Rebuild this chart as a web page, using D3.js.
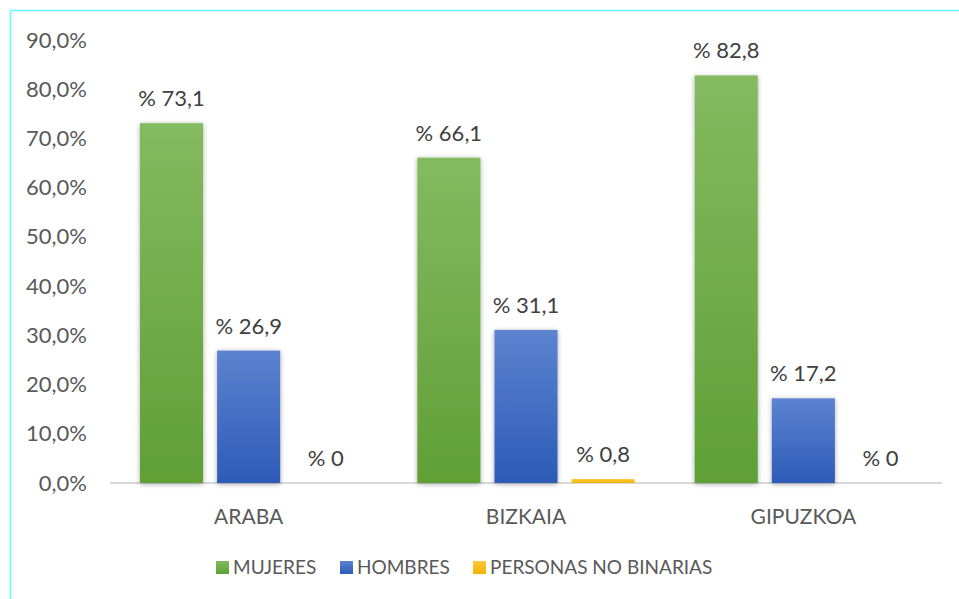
<!DOCTYPE html>
<html>
<head>
<meta charset="utf-8">
<script src="https://cdn.jsdelivr.net/npm/d3@7"></script>
<style>
  body { margin: 0; background: #fff; }
  svg { display: block; font-family: Lato, "Open Sans", sans-serif; }
</style>
</head>
<body>
<div id="the_chart"></div>
<script>
var categories = ["ARABA", "BIZKAIA", "GIPUZKOA"];
var seriesNames = ["MUJERES", "HOMBRES", "PERSONAS NO BINARIAS"];
var mujeres = [73.1, 66.1, 82.8];
var hombres = [26.9, 31.1, 17.2];
var noBinarias = [0, 0.8, 0];
var yTicks = [0, 10, 20, 30, 40, 50, 60, 70, 80, 90];

var seriesValues = [mujeres, hombres, noBinarias];
var colorsTop = ["#84ba60", "#5c83d0", "#ffc83a"];
var colorsBottom = ["#5f9f35", "#2d5bb7", "#f0b400"];

var w = 959, h = 599;
var svg = d3.select("#the_chart").append("svg")
    .attr("width", w)
    .attr("height", h);

var defs = svg.append("defs");
seriesNames.forEach(function (s, i) {
    var g = defs.append("linearGradient")
        .attr("id", "grad" + i)
        .attr("x1", 0).attr("y1", 0).attr("x2", 0).attr("y2", 1);
    g.append("stop").attr("offset", "0%").attr("stop-color", colorsTop[i]);
    g.append("stop").attr("offset", "100%").attr("stop-color", colorsBottom[i]);
});
var f = defs.append("filter").attr("id", "shadow")
    .attr("x", "-30%").attr("y", "-10%").attr("width", "160%").attr("height", "120%");
f.append("feDropShadow")
    .attr("dx", 0).attr("dy", 1)
    .attr("stdDeviation", 2.5)
    .attr("flood-color", "#000")
    .attr("flood-opacity", 0.35);

// outer border (only top and left visible)
svg.append("rect")
    .attr("x", 10.5).attr("y", 10.5)
    .attr("width", 1000).attr("height", 700)
    .attr("fill", "none")
    .attr("stroke", "#66ffff")
    .attr("stroke-width", 1.5);

var plotLeft = 110, plotRight = 942, plotTop = 40, plotBottom = 483;

var yscale = d3.scaleLinear().domain([0, 90]).range([plotBottom, plotTop]);
var x0 = d3.scaleBand().domain(categories).range([plotLeft, plotRight]);
var x1 = d3.scaleBand().domain(seriesNames)
    .range([30, x0.bandwidth() - 30])
    .paddingInner(14 / 77);

var fmtTick = function (d) { return d3.format(".1f")(d).replace(".", ",") + "%"; };
var fmtLabel = function (d) { return "% " + String(d).replace(".", ","); };

// y axis labels
var yaxis = d3.axisLeft(yscale).tickValues(yTicks).tickFormat(fmtTick).tickSize(0).tickPadding(0);
var gY = svg.append("g")
    .attr("transform", "translate(87,0)")
    .call(yaxis);
gY.select(".domain").remove();
gY.selectAll("text")
    .attr("fill", "#595959")
    .style("font-size", "22px")
    .style("font-family", "Lato, 'Open Sans', sans-serif");

// baseline
svg.append("line")
    .attr("x1", plotLeft).attr("x2", plotRight)
    .attr("y1", plotBottom).attr("y2", plotBottom)
    .attr("stroke", "#d9d9d9")
    .attr("stroke-width", 2);

// bars
var rows = [];
categories.forEach(function (c, ci) {
    seriesNames.forEach(function (s, si) {
        rows.push({ cat: c, series: s, si: si, value: seriesValues[si][ci] });
    });
});

svg.selectAll("rect.bar")
    .data(rows.filter(function (d) { return d.value > 0; }))
    .enter().append("rect")
    .attr("class", "bar")
    .attr("x", function (d) { return x0(d.cat) + x1(d.series); })
    .attr("y", function (d) { return yscale(d.value); })
    .attr("width", x1.bandwidth())
    .attr("height", function (d) { return plotBottom - yscale(d.value); })
    .attr("fill", function (d) { return "url(#grad" + d.si + ")"; })
    .attr("filter", function (d) { return d.value > 2 ? "url(#shadow)" : null; });

svg.selectAll("text.lbl")
    .data(rows)
    .enter().append("text")
    .attr("class", "lbl")
    .attr("x", function (d) { return x0(d.cat) + x1(d.series) + x1.bandwidth() / 2; })
    .attr("y", function (d) { return yscale(d.value) - 25; })
    .attr("dy", "0.36em")
    .attr("text-anchor", "middle")
    .attr("fill", "#404040")
    .style("font-size", "22px")
    .text(function (d) { return fmtLabel(d.value); });

// category labels
var xaxis = d3.axisBottom(x0).tickSize(0).tickPadding(0);
var gX = svg.append("g")
    .attr("transform", "translate(0,509)")
    .call(xaxis);
gX.select(".domain").remove();
gX.selectAll("text")
    .attr("fill", "#595959")
    .style("font-size", "21px")
    .style("font-family", "Lato, 'Open Sans', sans-serif");

// legend
var legendX = [216, 340, 473];
var legend = svg.selectAll("g.leg")
    .data(seriesNames)
    .enter().append("g")
    .attr("class", "leg")
    .attr("transform", function (d, i) { return "translate(" + legendX[i] + ",561)"; });
legend.append("rect")
    .attr("width", 13).attr("height", 13)
    .attr("fill", function (d, i) { return "url(#grad" + i + ")"; });
legend.append("text")
    .attr("x", 17).attr("y", 6.5)
    .attr("dy", "0.36em")
    .attr("fill", "#595959")
    .style("font-size", "19px")
    .text(function (d) { return d; });
</script>
</body>
</html>
